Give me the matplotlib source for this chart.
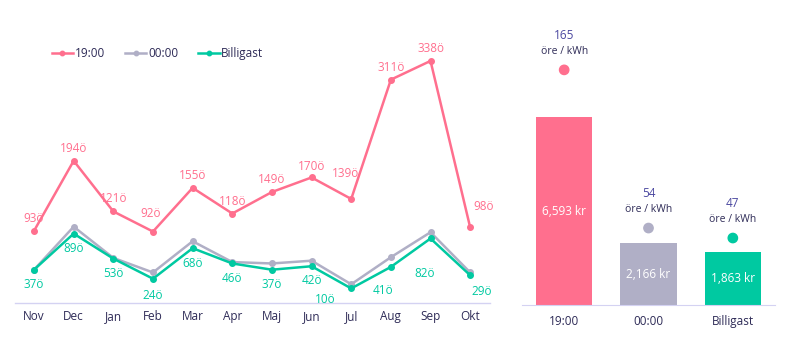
import matplotlib.pyplot as plt
import numpy as np

plt.rcParams['font.family'] = ['Open Sans', 'DejaVu Sans']

# data
months = ['Nov', 'Dec', 'Jan', 'Feb', 'Mar', 'Apr', 'Maj', 'Jun', 'Jul', 'Aug', 'Sep', 'Okt']
price_19 = [93, 194, 121, 92, 155, 118, 149, 170, 139, 311, 338, 98]
price_00 = [37, 99, 54, 33, 78, 48, 46, 50, 16, 55, 91, 33]
price_cheap = [37, 89, 53, 24, 68, 46, 37, 42, 10, 41, 82, 29]

bar_names = ['19:00', '00:00', 'Billigast']
bar_cost = [6593, 2166, 1863]
bar_ore = [165, 54, 47]

RED = '#ff6f8e'
GRAY = '#b0afc6'
GREEN = '#00c9a1'
TEXT = '#2e2b57'
ORE = '#4b48a0'
AXLINE = '#d4d2f2'

# label offsets in points (dx, dy) to avoid overlaps
red_off = [(0, 9), (0, 9), (0, 9), (-2, 13), (0, 9), (0, 9), (0, 9), (0, 8),
           (-4, 18), (0, 9), (0, 9), (10, 15)]
green_off = [(0, -11), (0, -11), (0, -11), (0, -12), (0, -11), (0, -11), (0, -11),
             (0, -10), (-19, -8), (-6, -17), (-4, -25), (8, -12)]

fig = plt.figure(figsize=(7.92, 3.64), dpi=100)
W, H = 792, 364

ax = fig.add_axes([15 / W, (H - 303) / H, 475 / W, 283 / H])
x = np.arange(len(months))
ax.plot(x, price_19, color=RED, lw=1.8, marker='o', ms=4, label='19:00', zorder=3)
ax.plot(x, price_00, color=GRAY, lw=1.8, marker='o', ms=4, label='00:00', zorder=2)
ax.plot(x, price_cheap, color=GREEN, lw=1.8, marker='o', ms=4, label='Billigast', zorder=4)

for i in range(len(months)):
    ax.annotate(f'{price_19[i]}ö', (x[i], price_19[i]), xytext=red_off[i],
                textcoords='offset points', ha='center', va='center',
                color=RED, fontsize=8.5)
    ax.annotate(f'{price_cheap[i]}ö', (x[i], price_cheap[i]), xytext=green_off[i],
                textcoords='offset points', ha='center', va='center',
                color=GREEN, fontsize=8.5)

ax.set_xlim(-0.48, 11.5)
ax.set_ylim(-11, 397)
ax.set_xticks(x)
ax.set_xticklabels(months, color=TEXT, fontsize=8.5)
ax.tick_params(axis='x', length=0, pad=5)
ax.set_yticks([])
for s in ['top', 'right', 'left']:
    ax.spines[s].set_visible(False)
ax.spines['bottom'].set_color(AXLINE)
ax.spines['bottom'].set_linewidth(1)

ax.legend(loc='center left', bbox_to_anchor=(0.055, 0.88), ncol=3, frameon=False,
          fontsize=8.5, handlelength=1.8, handletextpad=0.15, columnspacing=1.7,
          markerscale=0.8, labelcolor=TEXT)

# bar panel
bx = fig.add_axes([522 / W, (H - 305) / H, 253 / W, 285 / H])
pos = np.arange(len(bar_names))
colors = [RED, GRAY, GREEN]
bars = bx.bar(pos, bar_cost, width=0.67, color=colors, zorder=2)
for i, b in enumerate(bars):
    bx.text(pos[i], bar_cost[i] / 2, f'{bar_cost[i]:,} kr', ha='center', va='center',
            color='white', fontsize=8.5)
bx.set_xlim(-0.5, 2.5)
bx.set_ylim(0, 10000)
bx.set_xticks(pos)
bx.set_xticklabels(bar_names, color=TEXT, fontsize=8.5)
bx.tick_params(axis='x', length=0, pad=7)
bx.set_yticks([])
for s in ['top', 'right', 'left']:
    bx.spines[s].set_visible(False)
bx.spines['bottom'].set_color(AXLINE)

tx = bx.twinx()
tx.set_ylim(0, 200)
tx.scatter(pos, bar_ore, s=45, color=colors, zorder=3)
for i in range(len(bar_names)):
    tx.annotate('öre / kWh', (pos[i], bar_ore[i]), xytext=(0, 13),
                textcoords='offset points', ha='center', va='center',
                color=TEXT, fontsize=7.5)
    tx.annotate(str(bar_ore[i]), (pos[i], bar_ore[i]), xytext=(0, 25),
                textcoords='offset points', ha='center', va='center',
                color=ORE, fontsize=8.5)
tx.set_yticks([])
for s in tx.spines.values():
    s.set_visible(False)

fig.savefig('out.png', dpi=100)
